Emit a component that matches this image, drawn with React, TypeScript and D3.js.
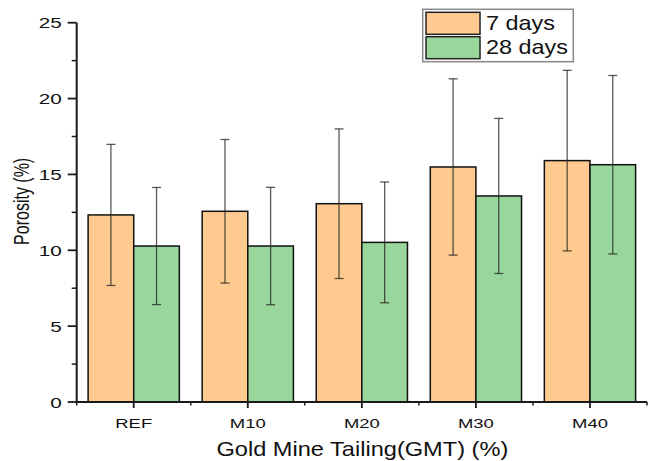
import * as d3 from "d3";

const categories = ["REF", "M10", "M20", "M30", "M40"];
const seriesNames = ["7 days", "28 days"];
const porosity7 = [12.33, 12.57, 13.07, 15.49, 15.91];
const porosity28 = [10.28, 10.28, 10.52, 13.58, 15.64];
const sd7 = [4.65, 4.73, 4.93, 5.81, 5.95];
const sd28 = [3.86, 3.87, 3.98, 5.11, 5.88];
const yTicks = [0, 5, 10, 15, 20, 25];
const yMinorTicks = [2.5, 7.5, 12.5, 17.5, 22.5];

const colors = ["#FFCA90", "#98D69B"];

const W = 650;
const H = 461;
const x0 = 76.7;
const x1 = 647;
const yBottom = 402;
const yTop = 22.7;

const App = () => {
  const x = d3
    .scaleBand()
    .domain(categories)
    .range([x0, x1])
    .paddingInner(0.2)
    .paddingOuter(0.1);
  const xSub = d3.scaleBand().domain(seriesNames).range([0, x.bandwidth()]);
  const y = d3.scaleLinear().domain([0, 25]).range([yBottom, yTop]);

  const values = [porosity7, porosity28];
  const sds = [sd7, sd28];

  const bars = categories.flatMap((c, i) =>
    seriesNames.map((s, j) => ({
      cat: c,
      series: s,
      value: values[j][i],
      sd: sds[j][i],
      color: colors[j],
    }))
  );

  const step = x.step();
  const minorX = d3.range(categories.length + 1).map(
    (i) => x(categories[0])! + x.bandwidth() / 2 - step / 2 + i * step
  );

  const cap = 4.5;
  const axisColor = "#1a1a1a";
  const font = "Arial, 'Liberation Sans', sans-serif";

  return (
    <svg
      width={W}
      height={H}
      style={{ position: "absolute", left: 0, top: 0, background: "#fff" }}
    >
      {/* bars */}
      {bars.map((b) => (
        <rect
          key={b.cat + b.series}
          x={x(b.cat)! + xSub(b.series)!}
          y={y(b.value)}
          width={xSub.bandwidth()}
          height={y(0) - y(b.value)}
          fill={b.color}
          stroke="#111"
          strokeWidth={1.5}
        />
      ))}

      {/* error bars */}
      {bars.map((b) => {
        const cx = x(b.cat)! + xSub(b.series)! + xSub.bandwidth() / 2;
        const top = y(b.value + b.sd);
        const bot = y(b.value - b.sd);
        return (
          <g
            key={"e" + b.cat + b.series}
            stroke="#222"
            strokeOpacity={0.75}
            strokeWidth={1.3}
          >
            <line x1={cx} x2={cx} y1={top} y2={bot} />
            <line x1={cx - cap} x2={cx + cap} y1={top} y2={top} />
            <line x1={cx - cap} x2={cx + cap} y1={bot} y2={bot} />
          </g>
        );
      })}

      {/* y axis */}
      <line x1={x0} x2={x0} y1={yTop} y2={yBottom + 1} stroke={axisColor} strokeWidth={2} />
      {yTicks.map((t) => (
        <g key={"yt" + t}>
          <line x1={x0 - 9} x2={x0} y1={y(t)} y2={y(t)} stroke={axisColor} strokeWidth={1.8} />
          <text
            transform={`translate(${x0 - 15},${y(t) + 5.5}) scale(1.38,1)`}
            textAnchor="end"
            fontFamily={font}
            fontSize={15}
            fill="#111"
          >
            {t}
          </text>
        </g>
      ))}
      {yMinorTicks.map((t) => (
        <line
          key={"ym" + t}
          x1={x0 - 5}
          x2={x0}
          y1={y(t)}
          y2={y(t)}
          stroke={axisColor}
          strokeWidth={1.5}
        />
      ))}

      {/* x axis */}
      <line x1={x0 - 1} x2={x1} y1={yBottom} y2={yBottom} stroke={axisColor} strokeWidth={2} />
      {categories.map((c) => {
        const cx = x(c)! + x.bandwidth() / 2;
        return (
          <g key={"xt" + c}>
            <line x1={cx} x2={cx} y1={yBottom} y2={yBottom + 6} stroke={axisColor} strokeWidth={1.8} />
            <text
              transform={`translate(${cx},${yBottom + 26}) scale(1.42,1)`}
              textAnchor="middle"
              fontFamily={font}
              fontSize={13}
              fill="#111"
            >
              {c}
            </text>
          </g>
        );
      })}
      {minorX.map((mx, i) => (
        <line
          key={"xm" + i}
          x1={mx}
          x2={mx}
          y1={yBottom}
          y2={yBottom + 3.5}
          stroke={axisColor}
          strokeWidth={1.5}
        />
      ))}

      {/* axis titles */}
      <text
        transform={`translate(${(x0 + x1) / 2 + 0.5},456) scale(1.18,1)`}
        textAnchor="middle"
        fontFamily={font}
        fontSize={20}
        fill="#111"
      >
        Gold Mine Tailing(GMT) (%)
      </text>
      <text
        transform={`translate(29,${(yTop + yBottom) / 2 - 11}) scale(1.33,1) rotate(-90)`}
        textAnchor="middle"
        fontFamily={font}
        fontSize={16}
        fill="#111"
      >
        Porosity (%)
      </text>

      {/* legend */}
      <rect x={422.7} y={9.3} width={150.6} height={52.4} fill="#fff" stroke="#888" strokeWidth={1.5} />
      {seriesNames.map((s, j) => (
        <g key={"lg" + s}>
          <rect
            x={426}
            y={12.3 + j * 24.4}
            width={54}
            height={22}
            fill={colors[j]}
            stroke="#222"
            strokeWidth={1.5}
          />
          <text
            transform={`translate(486,${30 + j * 24.4}) scale(1.17,1)`}
            fontFamily={font}
            fontSize={20}
            fill="#111"
          >
            {s}
          </text>
        </g>
      ))}
    </svg>
  );
};

export default App;
